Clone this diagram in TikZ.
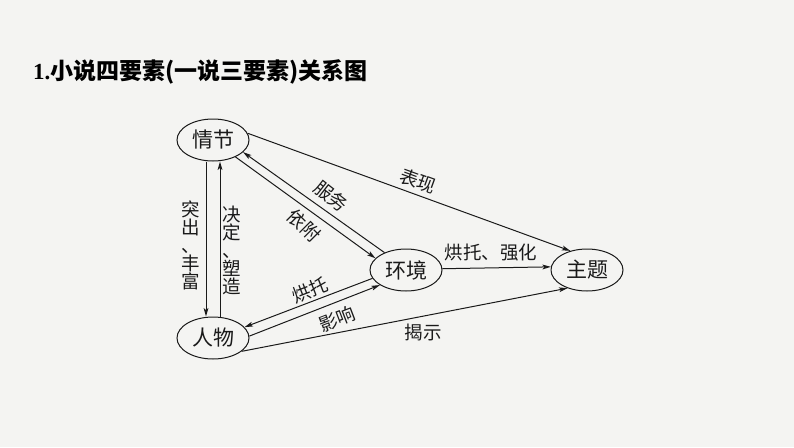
\documentclass[tikz,border=0pt]{standalone}
\usepackage{fontspec}
\setmainfont{Liberation Serif}
\newfontfamily\cjk{Noto Sans CJK SC}
\usetikzlibrary{shapes.geometric,arrows.meta}
\definecolor{bgc}{HTML}{F4F4F2}
\definecolor{ink}{HTML}{1A1A1A}
\begin{document}
\begin{tikzpicture}[x=1pt,y=-1pt,
  ov/.style={draw=ink,ellipse,line width=1pt,minimum width=72pt,minimum height=42pt,inner sep=0pt,text=ink,font=\cjk\fontsize{21}{21}\selectfont},
  lbl/.style={inner sep=0pt,text=ink,font=\cjk\fontsize{18.5}{18.5}\selectfont},
  vlbl/.style={inner sep=0pt,align=center,text=ink,font=\cjk\fontsize{18.5}{18}\selectfont},
  con/.style={draw=ink,line width=1pt,-{Stealth[length=8.5pt,width=4.8pt,inset=2pt]}}
]
\fill[bgc] (0,0) rectangle (794,447);
\useasboundingbox (0,0) rectangle (794,447);

\node[anchor=west,inner sep=0pt,text=black] (title) at (33,72) {\bfseries\fontsize{23}{23}\selectfont 1.{\cjk\bfseries 小说四要素(一说三要素)关系图}};

\node[ov] (qj) at (213,140) {情节};
\node[ov] (rw) at (213,338) {人物};
\node[ov] (hj) at (406,270) {环境};
\node[ov] (zt) at (587,270) {主题};

\draw[con] ([xshift=-7pt]qj.south) -- ([xshift=-7pt]rw.north);
\draw[con] ([xshift=7pt]rw.north) -- ([xshift=7pt]qj.south);
\draw[con] (qj.-37) -- (hj.159);
\draw[con] (hj.141) -- (qj.-22);
\draw[con] (qj.11) -- (zt.131);
\draw[con] (hj.2) -- (zt.175);
\draw[con] (hj.194) -- (rw.19);
\draw[con] (rw.3) -- (hj.210);
\draw[con] (rw.-25) -- (zt.-137);

\node[lbl,rotate=-20] (l1) at (418,181) {表现};
\node[lbl,rotate=-38] (l2) at (331,196) {服务};
\node[lbl,rotate=-45] (l3) at (304,226) {依附};
\node[vlbl] (l4) at (191,245) {突\\出\\、\\丰\\富};
\node[vlbl] (l5) at (232,250) {决\\定\\、\\塑\\造};
\node[lbl] (l6) at (491,253) {烘托、强化};
\node[lbl,rotate=21] (l7) at (310,290) {烘托};
\node[lbl,rotate=21] (l8) at (337,319) {影响};
\node[lbl] (l9) at (423,332) {揭示};
\end{tikzpicture}
\end{document}
